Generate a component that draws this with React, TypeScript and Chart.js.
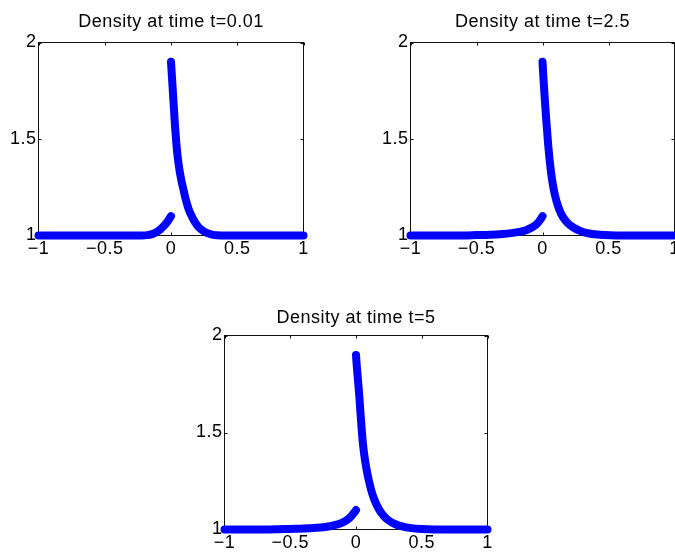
import React, { useEffect, useRef } from "react";
import { Chart, registerables } from "chart.js";

Chart.register(...registerables);

// ---- tick values and labels ----
const xTickValues = [-1, -0.5, 0, 0.5, 1];
const xTickLabels = ["\u22121", "\u22120.5", "0", "0.5", "1"];
const yTickValues = [1, 1.5, 2];
const yTickLabels = ["1", "1.5", "2"];

const titles = ["Density at time t=0.01", "Density at time t=2.5", "Density at time t=5"];

// ---- t = 0.01 ----
const leftX1 = [-1, -0.8, -0.6, -0.4, -0.3, -0.22, -0.18, -0.15, -0.12, -0.1, -0.08, -0.06, -0.04, -0.02, 0];
const leftY1 = [1, 1, 1, 1, 1, 1, 1.002, 1.006, 1.014, 1.022, 1.032, 1.045, 1.06, 1.078, 1.1];
const rightX1 = [0, 0.005, 0.01, 0.015, 0.02, 0.025, 0.03, 0.04, 0.05, 0.065, 0.08, 0.095, 0.11, 0.133, 0.16, 0.183, 0.21, 0.246, 0.28, 0.31, 0.35, 0.4, 0.5, 0.7, 1];
const rightY1 = [1.9, 1.845, 1.79, 1.735, 1.68, 1.625, 1.57, 1.48, 1.41, 1.335, 1.28, 1.235, 1.19, 1.137, 1.095, 1.067, 1.042, 1.022, 1.011, 1.005, 1.001, 1, 1, 1, 1];

// ---- t = 2.5 ----
const leftX2 = [-1, -0.8, -0.6, -0.5, -0.4, -0.3, -0.25, -0.2, -0.15, -0.12, -0.09, -0.06, -0.04, -0.02, 0];
const leftY2 = [1, 1, 1, 1.002, 1.004, 1.008, 1.011, 1.016, 1.023, 1.029, 1.038, 1.05, 1.062, 1.079, 1.1];
const rightX2 = [0, 0.005, 0.01, 0.015, 0.0225, 0.03, 0.043, 0.055, 0.068, 0.085, 0.105, 0.13, 0.155, 0.19, 0.23, 0.28, 0.33, 0.4, 0.47, 0.55, 0.7, 1];
const rightY2 = [1.9, 1.84, 1.785, 1.73, 1.655, 1.585, 1.47, 1.385, 1.31, 1.24, 1.18, 1.13, 1.095, 1.065, 1.043, 1.025, 1.013, 1.006, 1.002, 1, 1, 1];

// ---- t = 5 ----
const leftX3 = [-1, -0.8, -0.7, -0.6, -0.5, -0.4, -0.3, -0.25, -0.2, -0.15, -0.12, -0.09, -0.06, -0.04, -0.02, 0];
const leftY3 = [1, 1, 1, 1.001, 1.003, 1.005, 1.009, 1.012, 1.017, 1.025, 1.031, 1.04, 1.053, 1.066, 1.082, 1.1];
const rightX3 = [0, 0.005, 0.01, 0.015, 0.02, 0.027, 0.033, 0.043, 0.053, 0.068, 0.083, 0.1, 0.121, 0.145, 0.172, 0.21, 0.247, 0.3, 0.35, 0.42, 0.5, 0.6, 0.8, 1];
const rightY3 = [1.9, 1.85, 1.81, 1.77, 1.73, 1.67, 1.61, 1.52, 1.44, 1.36, 1.3, 1.245, 1.19, 1.145, 1.107, 1.07, 1.047, 1.027, 1.016, 1.007, 1.002, 1, 1, 1];

// canvas geometry (each panel gets a full-page canvas, shifted left by OFF)
const OFF = 60;
const CANVAS_W = 760;
const CANVAS_H = 620;
const Y_W = 50;
const X_H = 40;
const FONT = '"Liberation Sans", Arial, Helvetica, sans-serif';
const FONT_SIZE = 18;
const SPACING = "0.5px";
const BLUE = "#0000ff";

type Area = { l: number; r: number; t: number; b: number };
type PanelDef = {
  title: string;
  lx: number[]; ly: number[]; rx: number[]; ry: number[];
  area: Area;
  titleBaseline: number;
};

const panels: PanelDef[] = [
  { title: titles[0], lx: leftX1, ly: leftY1, rx: rightX1, ry: rightY1, area: { l: 38.5, r: 303.5, t: 42.5, b: 235.5 }, titleBaseline: 27 },
  { title: titles[1], lx: leftX2, ly: leftY2, rx: rightX2, ry: rightY2, area: { l: 410.5, r: 674.5, t: 42.5, b: 235.5 }, titleBaseline: 27 },
  { title: titles[2], lx: leftX3, ly: leftY3, rx: rightX3, ry: rightY3, area: { l: 224.5, r: 487.5, t: 335.5, b: 529.5 }, titleBaseline: 323 },
];

const toPts = (xs: number[], ys: number[]) => xs.map((x, i) => ({ x, y: ys[i] }));

function makeFramePlugin(title: string, baseline: number) {
  return {
    id: "matlabFrame",
    beforeDraw(chart: any) {
      chart.ctx.letterSpacing = SPACING;
    },
    beforeDatasetsDraw(chart: any) {
      const { ctx, chartArea } = chart;
      const { left, right, top, bottom } = chartArea;
      const xs = chart.scales.x;
      const ys = chart.scales.y;
      const tl = 3;
      ctx.save();
      ctx.strokeStyle = "#111";
      ctx.lineWidth = 1;
      ctx.strokeRect(left, top, right - left, bottom - top);
      ctx.beginPath();
      xTickValues.forEach((v) => {
        const px = Math.round(xs.getPixelForValue(v)) + 0.5;
        ctx.moveTo(px, bottom);
        ctx.lineTo(px, bottom - tl);
        ctx.moveTo(px, top);
        ctx.lineTo(px, top + tl);
      });
      yTickValues.forEach((v) => {
        const py = Math.round(ys.getPixelForValue(v)) + 0.5;
        ctx.moveTo(left, py);
        ctx.lineTo(left + tl, py);
        ctx.moveTo(right, py);
        ctx.lineTo(right - tl, py);
      });
      ctx.stroke();
      ctx.restore();
    },
    afterDraw(chart: any) {
      const { ctx, chartArea } = chart;
      ctx.save();
      ctx.letterSpacing = SPACING;
      ctx.font = `${FONT_SIZE}px ${FONT}`;
      ctx.fillStyle = "#000";
      ctx.textAlign = "center";
      ctx.textBaseline = "alphabetic";
      ctx.fillText(title, (chartArea.left + chartArea.right) / 2, baseline);
      ctx.restore();
    },
  };
}

function Panel({ def }: { def: PanelDef }) {
  const ref = useRef<HTMLCanvasElement | null>(null);
  useEffect(() => {
    if (!ref.current) return;
    const a = def.area;
    const lineStyle = {
      showLine: true,
      borderColor: BLUE,
      backgroundColor: BLUE,
      borderWidth: 8,
      borderCapStyle: "round" as const,
      borderJoinStyle: "round" as const,
      cubicInterpolationMode: "monotone" as const,
      pointRadius: 0,
      pointHoverRadius: 0,
      clip: false as any,
    };
    const chart = new Chart(ref.current, {
      type: "scatter",
      data: {
        datasets: [
          { ...lineStyle, data: toPts(def.lx, def.ly) },
          { ...lineStyle, data: toPts(def.rx, def.ry) },
        ],
      },
      options: {
        responsive: false,
        animation: false,
        devicePixelRatio: 1,
        events: [],
        layout: {
          padding: {
            left: a.l + OFF - Y_W,
            right: CANVAS_W - (a.r + OFF),
            top: a.t,
            bottom: CANVAS_H - a.b - X_H,
          },
        },
        plugins: {
          legend: { display: false },
          tooltip: { enabled: false },
          title: { display: false },
        },
        scales: {
          x: {
            type: "linear",
            min: -1,
            max: 1,
            afterFit: (s: any) => { s.height = X_H; },
            afterBuildTicks: (s: any) => { s.ticks = xTickValues.map((v) => ({ value: v })); },
            grid: { display: false, drawTicks: false },
            border: { display: false },
            ticks: {
              padding: 3,
              color: "#000",
              autoSkip: false,
              maxRotation: 0,
              font: { family: FONT, size: FONT_SIZE },
              callback: (_v: any, i: number) => xTickLabels[i],
            },
          },
          y: {
            type: "linear",
            min: 1,
            max: 2,
            afterFit: (s: any) => { s.width = Y_W; },
            afterBuildTicks: (s: any) => { s.ticks = yTickValues.map((v) => ({ value: v })); },
            grid: { display: false, drawTicks: false },
            border: { display: false },
            ticks: {
              padding: 2,
              color: "#000",
              autoSkip: false,
              font: { family: FONT, size: FONT_SIZE },
              callback: (_v: any, i: number) => yTickLabels[i],
            },
          },
        },
      },
      plugins: [makeFramePlugin(def.title, def.titleBaseline)],
    });
    return () => chart.destroy();
  }, [def]);
  return (
    <canvas
      ref={ref}
      width={CANVAS_W}
      height={CANVAS_H}
      style={{ position: "absolute", left: -OFF, top: 0, width: CANVAS_W, height: CANVAS_H }}
    />
  );
}

export default function App() {
  return (
    <div
      style={{
        position: "fixed",
        left: 0,
        top: 0,
        width: 675,
        height: 556,
        overflow: "hidden",
        background: "#fff",
      }}
    >
      {panels.map((p, i) => (
        <Panel key={i} def={p} />
      ))}
    </div>
  );
}
